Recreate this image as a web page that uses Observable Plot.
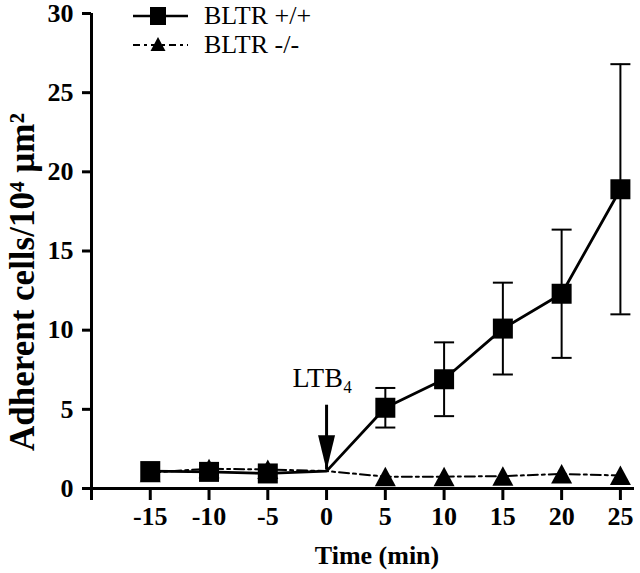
<!DOCTYPE html>
<html><head><meta charset="utf-8">
<script src="https://cdn.jsdelivr.net/npm/d3@7"></script>
<script src="https://cdn.jsdelivr.net/npm/@observablehq/plot@0.6"></script>
<style>
body{margin:0;background:#fff;}
#wrap{position:relative;width:640px;height:573px;}
#legend{position:absolute;left:0;top:0;}
#legend text{font-size:26px;font-weight:normal;}
</style></head><body>
<div id="wrap"></div>
<script>
// ---- data ----
const times = [-15, -10, -5, 0, 5, 10, 15, 20, 25];
const wtMean = [1.1, 1.05, 0.95, 1.1, 5.1, 6.9, 10.1, 12.3, 18.9];
const wtErr  = [0, 0, 0, 0, 1.25, 2.33, 2.9, 4.05, 7.9];
const koMean = [1.0, 1.25, 1.2, 1.1, 0.75, 0.75, 0.78, 0.92, 0.82];
const hasMarker = [true, true, true, false, true, true, true, true, true];
const xTicks = [-20, -15, -10, -5, 0, 5, 10, 15, 20, 25];
const yTicks = [0, 5, 10, 15, 20, 25, 30];
const seriesNames = ["BLTR +/+", "BLTR -/-"];
// annotation (LTB4 added at time 0)
const ltbLabel = ["LTB\u2084"];
const ltbTime = [0];
const arrowTopY = [5.26];
const arrowTipY = [1.16];
const ltbLabelY = [6.42];

const wt = times.map((t, i) => ({t, v: wtMean[i], e: wtErr[i], m: hasMarker[i]}));
const ko = times.map((t, i) => ({t, v: koMean[i], m: hasMarker[i]}));
const ann = ltbTime.map((t, i) => ({t, top: arrowTopY[i], tip: arrowTipY[i], ly: ltbLabelY[i], label: ltbLabel[i]}));

// custom symbols
const squareSym = {draw(c){ c.moveTo(-10,-10); c.lineTo(10,-10); c.lineTo(10,10); c.lineTo(-10,10); c.closePath(); }};
const triSym = {draw(c){ c.moveTo(0,-10); c.lineTo(10.5,9.5); c.lineTo(-10.5,9.5); c.closePath(); }};
const capSym = {draw(c){ c.moveTo(-10,0); c.lineTo(10,0); }};
const headSym = {draw(c){ c.moveTo(0,0); c.lineTo(-8.5,-35); c.lineTo(8.5,-35); c.closePath(); }};

const font = "'Liberation Serif', 'Times New Roman', Times, serif";

const chart = Plot.plot({
  width: 640,
  height: 573,
  marginLeft: 91,
  marginRight: 6,
  marginTop: 13,
  marginBottom: 85,
  style: {fontFamily: font, fontSize: "26px", fontWeight: "bold", color: "black", background: "white"},
  x: {domain: [-20, 26.2], axis: null},
  y: {domain: [0, 30], axis: null},
  marks: [
    Plot.axisX(xTicks, {tickSize: 12, tickPadding: 6, strokeWidth: 3, label: null,
      tickFormat: d => d === -20 ? "" : String(d)}),
    Plot.axisY(yTicks, {tickSize: 9, tickPadding: 9, strokeWidth: 3, label: null,
      tickFormat: d => String(d)}),
    Plot.ruleY([0], {strokeWidth: 3}),
    Plot.ruleX([-20], {strokeWidth: 3}),
    // BLTR -/- dash-dot line
    Plot.line(ko, {x: "t", y: "v", stroke: "black", strokeWidth: 2, strokeDasharray: "10,4,3,4"}),
    Plot.dot(ko.filter(d => d.m), {x: "t", y: "v", symbol: triSym, fill: "black", stroke: "none", r: 10}),
    // BLTR +/+ error bars
    Plot.ruleX(wt.filter(d => d.e > 0), {x: "t", y1: d => d.v - d.e, y2: d => d.v + d.e, strokeWidth: 2}),
    Plot.dot(wt.filter(d => d.e > 0), {x: "t", y: d => d.v + d.e, symbol: capSym, stroke: "black", fill: "none", strokeWidth: 2, r: 10}),
    Plot.dot(wt.filter(d => d.e > 0), {x: "t", y: d => d.v - d.e, symbol: capSym, stroke: "black", fill: "none", strokeWidth: 2, r: 10}),
    Plot.line(wt, {x: "t", y: "v", stroke: "black", strokeWidth: 2.8}),
    Plot.dot(wt.filter(d => d.m), {x: "t", y: "v", symbol: squareSym, fill: "black", stroke: "none", r: 10}),
    // LTB4 arrow
    Plot.ruleX(ann, {x: "t", y1: "tip", y2: "top", strokeWidth: 3}),
    Plot.dot(ann, {x: "t", y: "tip", symbol: headSym, fill: "black", stroke: "none", r: 10}),
    Plot.text(ann, {x: "t", y: "ly", text: "label", lineAnchor: "bottom", textAnchor: "middle",
      fontSize: 28, fontWeight: "normal", dx: -4}),
    // axis titles
    Plot.text(["Time (min)"], {frameAnchor: "bottom", dx: 14, dy: 75, lineAnchor: "bottom",
      textAnchor: "middle", fontSize: 26, fontWeight: "bold"}),
    Plot.text(["Adherent cells/10\u2074 \u00b5m\u00b2"], {frameAnchor: "left", rotate: -90, dx: -69, dy: 31,
      lineAnchor: "middle", textAnchor: "middle", fontSize: 35, fontWeight: "bold"})
  ]
});

const wrap = document.getElementById("wrap");
wrap.appendChild(chart);

// legend overlay
const leg = d3.select(wrap).append("svg").attr("id", "legend")
  .attr("width", 340).attr("height", 70)
  .style("font-family", font);
const rows = [
  {name: seriesNames[0], y: 16, dash: null, sym: "square"},
  {name: seriesNames[1], y: 45, dash: "7,4,3,4", sym: "tri"}
];
rows.forEach(r => {
  const g = leg.append("g");
  g.append("line").attr("x1", 133).attr("x2", 188).attr("y1", r.y).attr("y2", r.y)
    .attr("stroke", "black").attr("stroke-width", r.dash ? 2 : 2.5)
    .attr("stroke-dasharray", r.dash);
  if (r.sym === "square") {
    g.append("rect").attr("x", 150).attr("y", r.y - 9).attr("width", 16).attr("height", 18).attr("fill", "black");
  } else {
    g.append("path").attr("d", `M158,${r.y-8}L165.5,${r.y+6}L150.5,${r.y+6}Z`).attr("fill", "black");
  }
  g.append("text").attr("x", 204).attr("y", r.y + 8).text(r.name);
});
</script>
</body></html>
